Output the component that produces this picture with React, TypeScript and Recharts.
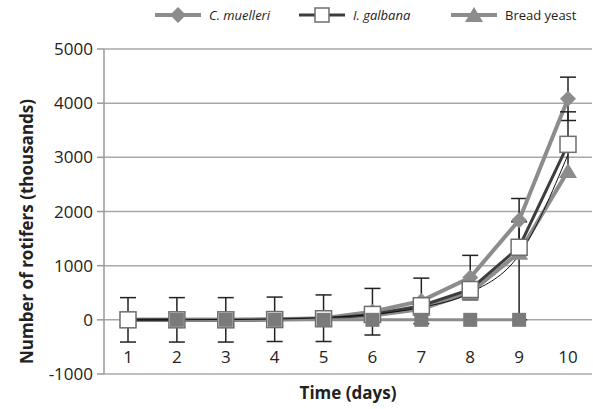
import React from "react";
import {
  CartesianGrid,
  ComposedChart,
  ErrorBar,
  Line,
  XAxis,
  YAxis,
} from "recharts";

const days = ["1", "2", "3", "4", "5", "6", "7", "8", "9", "10"];
const cMuelleri = [0, 0, 0, 10, 30, 150, 350, 780, 1840, 4080];
const cMuelleriErr = [410, 410, 410, 410, 430, 430, 420, 410, 400, 400];
const iGalbana = [0, 0, 0, 5, 20, 100, 260, 560, 1340, 3240];
const iGalbanaErrLow = [0, 0, 0, 0, 0, 0, 0, 0, 1340, 600];
const iGalbanaErrHigh = [0, 0, 0, 0, 0, 0, 0, 0, 470, 600];
const breadYeast = [0, 0, 0, 5, 20, 80, 200, 500, 1240, 2750];
const baseline = [null, 0, 0, 0, 0, 0, 0, 0, 0, null];
const trend = [0, 2, 6, 15, 40, 100, 230, 500, 1200, 3050];
const yTicks = [-1000, 0, 1000, 2000, 3000, 4000, 5000];

const data = days.map((day, i) => ({
  day,
  cm: cMuelleri[i],
  cmErr: cMuelleriErr[i],
  ig: iGalbana[i],
  igErr: [iGalbanaErrLow[i], iGalbanaErrHigh[i]],
  by: breadYeast[i],
  base: baseline[i],
  trend: trend[i],
}));

const FONT = "'Open Sans', sans-serif";
const LIGHT = "#8c8c8c";
const DARK = "#3d3d3d";

function Diamond(props: any) {
  const { cx, cy, index } = props;
  if (cx == null || cy == null) return null;
  return (
    <path
      key={`d-${index}`}
      d={`M${cx},${cy - 8} L${cx + 8},${cy} L${cx},${cy + 8} L${cx - 8},${cy} Z`}
      fill={LIGHT}
    />
  );
}

function OpenSquare(props: any) {
  const { cx, cy, index } = props;
  if (cx == null || cy == null) return null;
  return (
    <rect key={`s-${index}`} x={cx - 8} y={cy - 8} width={16} height={16} fill="#fff" stroke="#6e6e6e" strokeWidth={1.5} />
  );
}

function Triangle(props: any) {
  const { cx, cy, index } = props;
  if (cx == null || cy == null) return null;
  return (
    <path
      key={`t-${index}`}
      d={`M${cx},${cy - 8} L${cx + 9},${cy + 7} L${cx - 9},${cy + 7} Z`}
      fill={LIGHT}
    />
  );
}

function FilledSquare(props: any) {
  const { cx, cy, index } = props;
  if (cx == null || cy == null) return null;
  return <rect key={`f-${index}`} x={cx - 7} y={cy - 7} width={14} height={14} fill="#7a7a7a" />;
}

function DayTick(props: any) {
  const { x, y, payload } = props;
  return (
    <text x={x} y={y - 11} textAnchor="middle" fill="#222" fontSize={17} fontFamily={FONT}>
      {payload.value}
    </text>
  );
}

function LegendBox() {
  const item = (icon: React.ReactNode, label: string, italic: boolean, left: number) => (
    <div style={{ position: "absolute", left, top: 6, display: "flex", alignItems: "center" }}>
      <svg width={48} height={18}>{icon}</svg>
      <span style={{ fontSize: 13, fontStyle: italic ? "italic" : "normal", color: "#222", marginLeft: 6 }}>{label}</span>
    </div>
  );
  return (
    <div style={{ position: "absolute", left: 0, top: 0, width: 593, height: 30, fontFamily: FONT }}>
      {item(
        <>
          <line x1={0} y1={9} x2={46} y2={9} stroke={LIGHT} strokeWidth={4} />
          <path d="M23,1 L31,9 L23,17 L15,9 Z" fill={LIGHT} />
        </>,
        "C. muelleri",
        true,
        155
      )}
      {item(
        <>
          <line x1={0} y1={9} x2={46} y2={9} stroke={DARK} strokeWidth={3} />
          <rect x={16} y={2} width={14} height={14} fill="#fff" stroke="#6e6e6e" strokeWidth={1.5} />
        </>,
        "I. galbana",
        true,
        299
      )}
      {item(
        <>
          <line x1={0} y1={9} x2={46} y2={9} stroke={LIGHT} strokeWidth={4} />
          <path d="M23,1 L32,16 L14,16 Z" fill={LIGHT} />
        </>,
        "Bread yeast",
        false,
        451
      )}
    </div>
  );
}

export default function App() {
  return (
    <div style={{ position: "absolute", left: 0, top: 0, width: 593, height: 409, background: "#fff" }}>
      <ComposedChart
        width={593}
        height={409}
        data={data}
        margin={{ top: 49, right: 1, bottom: 0, left: 0 }}
        style={{ fontFamily: FONT }}
      >
        <CartesianGrid horizontal vertical={false} stroke="#a8a8a8" strokeWidth={1.5} />
        <XAxis
          dataKey="day"
          height={35}
          padding={{ left: 24, right: 24 }}
          axisLine={false}
          tickLine={false}
          tickSize={0}
          tickMargin={0}
          tick={<DayTick />}
          interval={0}
          label={{ value: "Time (days)", position: "center", dy: 1, fill: "#222", fontSize: 17, fontWeight: 700, fontFamily: FONT }}
        />
        <YAxis
          width={104}
          domain={[-1000, 5000]}
          ticks={yTicks}
          interval={0}
          axisLine={{ stroke: "#999", strokeWidth: 1.5 }}
          tickLine={{ stroke: "#999", strokeWidth: 1.5 }}
          tickSize={7}
          tickMargin={4}
          tick={{ fill: "#222", fontSize: 17, fontFamily: FONT }}
          label={{
            value: "Number of rotifers (thousands)",
            angle: -90,
            position: "center",
            dx: -25,
            dy: 20,
            fill: "#222",
            fontSize: 17,
            fontWeight: 700,
            fontFamily: FONT,
          }}
        />
        <Line dataKey="cm" stroke={LIGHT} strokeWidth={4} dot={<Diamond />} isAnimationActive={false}>
          <ErrorBar dataKey="cmErr" width={8} stroke="#222" strokeWidth={1.5} />
        </Line>
        <Line dataKey="by" stroke={LIGHT} strokeWidth={4} dot={<Triangle />} isAnimationActive={false} />
        <Line dataKey="ig" stroke={DARK} strokeWidth={3} dot={<OpenSquare />} isAnimationActive={false}>
          <ErrorBar dataKey="igErr" width={8} stroke="#222" strokeWidth={1.5} />
        </Line>
        <Line
          dataKey="base"
          stroke={LIGHT}
          strokeWidth={3}
          dot={<FilledSquare />}
          isAnimationActive={false}
          connectNulls={false}
        />
        <Line type="monotone" dataKey="trend" stroke="#111" strokeWidth={1} dot={false} isAnimationActive={false} />
      </ComposedChart>
      <LegendBox />
    </div>
  );
}
